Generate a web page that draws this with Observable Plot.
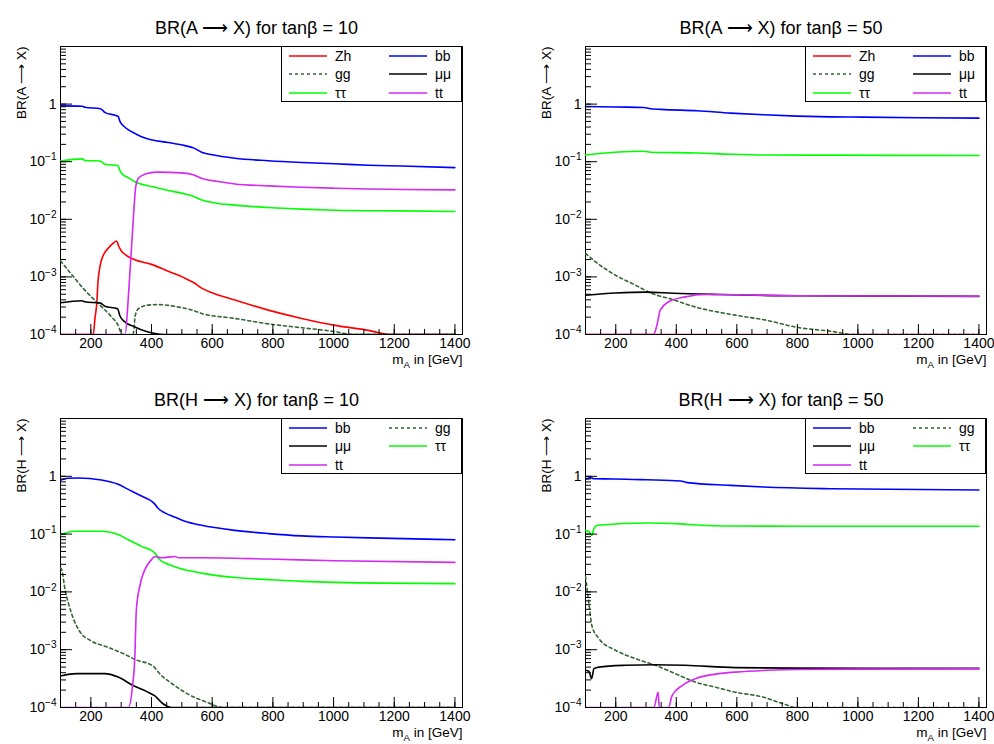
<!DOCTYPE html>
<html><head><meta charset="utf-8">
<script src="https://cdn.jsdelivr.net/npm/d3@7"></script>
<script src="https://cdn.jsdelivr.net/npm/@observablehq/plot@0.6"></script>
<style>
body{margin:0;background:#fff;font-family:"Liberation Sans",Arial,sans-serif;}
#root{position:relative;width:994px;height:744px;overflow:hidden;background:#fff;}
.panel{position:absolute;width:497px;height:372px;}
.panel svg{position:absolute;left:0;top:0;}
.legend{position:absolute;box-sizing:border-box;border:1px solid #000;background:#fff;width:181px;height:56px;}
.entry{position:absolute;height:16px;font-size:14px;line-height:16px;white-space:nowrap;}
.entry svg{position:absolute;left:0;top:5px;}
.entry span{position:absolute;left:46px;top:0;}
</style></head><body><div id="root"></div>
<script>
// ---- axes ----
const massRange = [100, 1425];
const brRange = [1e-4, 10];
const xMajorTicks = [200, 400, 600, 800, 1000, 1200, 1400];
const yMajorTicks = [1e-4, 1e-3, 1e-2, 1e-1, 1];
const yTickLabels = ["10^{−4}", "10^{−3}", "10^{−2}", "10^{−1}", "1"];
const xLabel = "m_{A} in [GeV]";

// ---- BR(A -> X), tanβ = 10 : [mA, BR] ----
const A10_Zh = [[100,1e-6],[205,1e-6],[208,1e-4],[214,2e-4],[219,3.2e-4],[224,8.8e-4],[230,1.5e-3],[235,1.96e-3],[245,2.6e-3],[257,3.13e-3],[270,3.7e-3],[285,4.2e-3],[292,3.4e-3],[300,2.85e-3],[318,2.35e-3],[345,1.98e-3],[400,1.65e-3],[455,1.25e-3],[510,9.5e-4],[540,7.9e-4],[565,6.4e-4],[600,5.3e-4],[675,3.96e-4],[785,2.65e-4],[895,1.9e-4],[1005,1.44e-4],[1115,1.18e-4],[1185,1e-4],[1250,8.8e-5],[1400,6.8e-5]];
const A10_bb = [[100,0.93],[172,0.92],[180,0.88],[232,0.83],[240,0.77],[246,0.72],[290,0.61],[296,0.50],[307,0.42],[323,0.36],[345,0.31],[367,0.27],[400,0.24],[455,0.215],[510,0.19],[540,0.172],[565,0.146],[600,0.132],[675,0.115],[785,0.104],[895,0.097],[1005,0.092],[1115,0.087],[1225,0.084],[1400,0.079]];
const A10_gg = [[100,1.9e-3],[140,1.05e-3],[180,5.9e-4],[224,3.46e-4],[268,2.03e-4],[290,1.45e-4],[303,1e-4],[310,1e-6],[338,1e-6],[342,1.2e-4],[346,2.1e-4],[357,2.8e-4],[389,3.24e-4],[422,3.3e-4],[488,3.0e-4],[540,2.6e-4],[565,2.32e-4],[675,1.9e-4],[785,1.53e-4],[895,1.31e-4],[1005,1.12e-4],[1060,1e-4],[1150,8.5e-5],[1400,6e-5]];
const A10_mumu = [[100,3.56e-4],[170,3.86e-4],[180,3.7e-4],[232,3.5e-4],[246,3.1e-4],[288,2.79e-4],[296,2.1e-4],[312,1.66e-4],[345,1.35e-4],[378,1.15e-4],[444,1e-4],[520,9e-5],[1400,5e-5]];
const A10_tautau = [[100,0.103],[172,0.112],[180,0.105],[232,0.103],[241,0.094],[246,0.09],[290,0.085],[296,0.07],[301,0.063],[323,0.053],[345,0.045],[400,0.037],[455,0.0316],[510,0.0276],[540,0.0249],[565,0.0217],[600,0.0196],[675,0.0176],[785,0.016],[895,0.015],[1005,0.0144],[1225,0.014],[1400,0.0137]];
const A10_tt = [[100,1e-6],[310,1e-6],[313,1e-4],[323,3.95e-4],[330,1.5e-3],[337,5.7e-3],[343,0.018],[348,0.037],[355,0.05],[370,0.058],[389,0.063],[422,0.066],[499,0.064],[540,0.059],[565,0.0516],[620,0.0452],[675,0.0411],[785,0.038],[895,0.036],[1005,0.0346],[1115,0.0336],[1225,0.033],[1400,0.0324]];

// ---- BR(A -> X), tanβ = 50 ----
const A50_Zh = [[100,1e-6],[1400,1e-6]];
const A50_bb = [[100,0.91],[200,0.89],[293,0.875],[310,0.84],[350,0.81],[469,0.766],[579,0.698],[689,0.652],[799,0.618],[909,0.60],[1019,0.594],[1200,0.58],[1400,0.57]];
const A50_gg = [[100,2.57e-3],[133,1.83e-3],[199,1.07e-3],[265,7.2e-4],[314,5.3e-4],[386,4.07e-4],[463,3.0e-4],[595,2.17e-4],[694,1.78e-4],[803,1.32e-4],[910,1.14e-4],[985,1e-4],[1100,8.5e-5],[1400,6e-5]];
const A50_mumu = [[100,4.8e-4],[200,5.25e-4],[300,5.45e-4],[390,5.2e-4],[540,4.95e-4],[800,4.7e-4],[1400,4.6e-4]];
const A50_tautau = [[100,0.131],[195,0.146],[293,0.152],[315,0.146],[470,0.142],[580,0.135],[690,0.131],[910,0.13],[1400,0.128]];
const A50_tt = [[100,1e-6],[322,1e-6],[325,1e-4],[336,1.45e-4],[347,2.65e-4],[375,3.7e-4],[430,4.5e-4],[496,4.95e-4],[540,4.95e-4],[800,4.72e-4],[1400,4.62e-4]];

// ---- BR(H -> X), tanβ = 10 ----
const H10_bb = [[100,0.85],[124,0.923],[158,0.935],[235,0.863],[290,0.726],[323,0.594],[367,0.455],[405,0.355],[411,0.33],[420,0.285],[444,0.233],[477,0.196],[510,0.167],[565,0.142],[675,0.116],[785,0.102],[895,0.093],[1005,0.089],[1115,0.086],[1400,0.080]];
const H10_gg = [[100,0.026],[104,0.0243],[115,0.0109],[126,6.4e-3],[142,3.5e-3],[164,2.04e-3],[197,1.46e-3],[252,1.12e-3],[306,8.6e-4],[345,6.8e-4],[405,5.2e-4],[430,3.7e-4],[471,2.5e-4],[525,1.65e-4],[580,1.25e-4],[635,1e-4],[700,8e-5],[1400,3e-5]];
const H10_mumu = [[100,3.5e-4],[153,3.85e-4],[246,3.85e-4],[290,3.36e-4],[339,2.4e-4],[383,1.9e-4],[410,1.6e-4],[438,1.16e-4],[465,1e-4],[520,8.5e-5],[1400,4e-5]];
const H10_tautau = [[100,0.098],[147,0.112],[235,0.112],[290,0.098],[323,0.080],[367,0.0613],[405,0.05],[411,0.0468],[427,0.036],[455,0.030],[510,0.0241],[565,0.0211],[675,0.0177],[785,0.0163],[895,0.0152],[1005,0.0146],[1400,0.0139]];
const H10_tt = [[100,1e-6],[321,1e-6],[324,1e-4],[337,2.25e-4],[345,7.5e-4],[350,4.9e-3],[361,0.0124],[378,0.0243],[400,0.0362],[411,0.041],[433,0.039],[455,0.040],[477,0.041],[490,0.039],[565,0.039],[785,0.037],[1005,0.0345],[1400,0.0324]];

// ---- BR(H -> X), tanβ = 50 ----
const H50_bb = [[100,0.886],[118,0.948],[128,0.905],[195,0.899],[300,0.87],[414,0.83],[436,0.776],[579,0.697],[689,0.652],[909,0.61],[1400,0.578]];
const H50_gg = [[100,0.0185],[111,6.4e-3],[122,2.5e-3],[144,1.57e-3],[199,9.8e-4],[265,7.0e-4],[331,5.37e-4],[397,3.85e-4],[463,2.75e-4],[529,2.25e-4],[595,1.84e-4],[690,1.5e-4],[745,1.2e-4],[800,1e-4],[900,8e-5],[1400,4e-5]];
const H50_mumu = [[100,4.4e-4],[112,4.2e-4],[120,3.15e-4],[128,4.7e-4],[144,5.0e-4],[232,5.37e-4],[331,5.5e-4],[430,5.37e-4],[595,4.9e-4],[800,4.8e-4],[1400,4.75e-4]];
const H50_tautau = [[100,0.115],[112,0.11],[121,0.095],[129,0.128],[140,0.142],[305,0.156],[414,0.150],[469,0.144],[579,0.138],[800,0.137],[1400,0.137]];
const H50_tt = [[100,1e-6],[324,1e-6],[326,1e-4],[340,1.84e-4],[344,1e-4],[346,1e-6],[372,1e-6],[374,1e-4],[386,1.6e-4],[419,2.4e-4],[463,3.15e-4],[540,3.85e-4],[595,4.1e-4],[700,4.4e-4],[800,4.55e-4],[1000,4.62e-4],[1400,4.65e-4]];

// ---- legends / titles ----
const legendA = ["Zh", "bb", "gg", "μμ", "ττ", "tt"];
const legendH = ["bb", "gg", "μμ", "ττ", "tt"];
const titles = ["BR(A ⟶ X) for tanβ = 10", "BR(A ⟶ X) for tanβ = 50", "BR(H ⟶ X) for tanβ = 10", "BR(H ⟶ X) for tanβ = 50"];
const yLabels = ["BR(A ⟶ X)", "BR(A ⟶ X)", "BR(H ⟶ X)", "BR(H ⟶ X)"];

// ---- styles ----
const channelColor = {"Zh": "#ff0000", "bb": "#0000ff", "gg": "#336633", "μμ": "#000000", "ττ": "#00ff00", "tt": "#d42af2"};
const channelDash = {"gg": "3,3"};

const panels = [
  {left: 0, top: 0, ml: 60, mr: 35, mt: 46, mb: 38, title: titles[0], ylabel: yLabels[0], legend: legendA,
   series: {"Zh": A10_Zh, "bb": A10_bb, "gg": A10_gg, "μμ": A10_mumu, "ττ": A10_tautau, "tt": A10_tt}},
  {left: 497, top: 0, ml: 88, mr: 8, mt: 46, mb: 38, title: titles[1], ylabel: yLabels[1], legend: legendA,
   series: {"Zh": A50_Zh, "bb": A50_bb, "gg": A50_gg, "μμ": A50_mumu, "ττ": A50_tautau, "tt": A50_tt}},
  {left: 0, top: 372, ml: 60, mr: 35, mt: 46, mb: 37, title: titles[2], ylabel: yLabels[2], legend: legendH,
   series: {"bb": H10_bb, "gg": H10_gg, "μμ": H10_mumu, "ττ": H10_tautau, "tt": H10_tt}},
  {left: 497, top: 372, ml: 88, mr: 8, mt: 46, mb: 37, title: titles[3], ylabel: yLabels[3], legend: legendH,
   series: {"bb": H50_bb, "gg": H50_gg, "μμ": H50_mumu, "ττ": H50_tautau, "tt": H50_tt}}
];

const W = 497, H = 372;
const xMinorTicks = d3.ticks(massRange[0], 1400, 26);
const yMinorTicks = d3.scaleLog().domain(brRange).ticks();

function richText(root) {
  root.querySelectorAll("text").forEach(el => {
    const s = el.textContent;
    if (!/[\^_]\{/.test(s)) return;
    const fs = parseFloat(getComputedStyle(el).fontSize) || 14;
    while (el.firstChild) el.removeChild(el.firstChild);
    let cur = 0;
    s.split(/([\^_]\{[^}]*\})/).filter(Boolean).forEach(part => {
      const m = part.match(/^([\^_])\{([^}]*)\}$/);
      const ts = document.createElementNS("http://www.w3.org/2000/svg", "tspan");
      const target = m ? (m[1] === "^" ? -0.42 * fs : 0.3 * fs) : 0;
      if (target !== cur) ts.setAttribute("dy", (target - cur).toFixed(2));
      cur = target;
      if (m) ts.setAttribute("font-size", (0.72 * fs).toFixed(1));
      ts.textContent = m ? m[2] : part;
      el.appendChild(ts);
    });
  });
}

const root = document.getElementById("root");
for (const p of panels) {
  const fw = W - p.ml - p.mr, fh = H - p.mt - p.mb;
  const marks = [Plot.frame({stroke: "#000", strokeWidth: 1})];
  for (const name of p.legend) {
    marks.push(Plot.line(p.series[name], {
      x: d => d[0], y: d => d[1], stroke: channelColor[name], strokeWidth: 1.6,
      strokeDasharray: channelDash[name] || null, curve: "monotone-x", clip: true
    }));
  }
  marks.push(
    Plot.tickX(xMinorTicks, {x: d => d, insetTop: fh - 5, stroke: "#000"}),
    Plot.tickX(xMajorTicks, {x: d => d, insetTop: fh - 10, stroke: "#000"}),
    Plot.tickY(yMinorTicks, {y: d => d, insetRight: fw - 6, stroke: "#000"}),
    Plot.tickY(yMajorTicks, {y: d => d, insetRight: fw - 12, stroke: "#000"}),
    Plot.axisX({ticks: xMajorTicks, tickSize: 0, tickPadding: 4, fontSize: 14, label: null, tickFormat: d => String(d)}),
    Plot.axisY({ticks: yMajorTicks, tickSize: 0, tickPadding: 4, fontSize: 14, label: null,
      tickFormat: d => yTickLabels[yMajorTicks.indexOf(d)]}),
    Plot.text([p.title], {text: d => d, frameAnchor: "top", dy: -25, dx: -5, fontSize: 18}),
    Plot.text([p.ylabel], {text: d => d, frameAnchor: "top-left", rotate: -90, textAnchor: "end", dx: -44, fontSize: 13.5}),
    Plot.text([xLabel], {text: d => d, frameAnchor: "bottom-right", textAnchor: "end", dy: 29, fontSize: 13.5})
  );
  const svg = Plot.plot({
    width: W, height: H,
    marginLeft: p.ml, marginRight: p.mr, marginTop: p.mt, marginBottom: p.mb,
    x: {type: "linear", domain: massRange},
    y: {type: "log", domain: brRange, clamp: true},
    style: {fontFamily: "'Liberation Sans', Arial, sans-serif", fontSize: "14px", color: "#000", background: "transparent", overflow: "visible"},
    marks
  });
  const div = document.createElement("div");
  div.className = "panel";
  div.style.left = p.left + "px";
  div.style.top = p.top + "px";
  div.appendChild(svg);
  root.appendChild(div);
  richText(svg);

  // legend
  const lg = document.createElement("div");
  lg.className = "legend";
  lg.style.left = (W - p.mr - 181) + "px";
  lg.style.top = p.mt + "px";
  const rowCenters = [8.5, 27, 45.5];
  const colLefts = [7, 107];
  p.legend.forEach((name, i) => {
    const e = document.createElement("div");
    e.className = "entry";
    e.style.left = colLefts[i % 2] + "px";
    e.style.top = (rowCenters[Math.floor(i / 2)] - 8) + "px";
    const dash = channelDash[name] ? ` stroke-dasharray="${channelDash[name]}"` : "";
    e.innerHTML = `<svg width="38" height="6"><line x1="0" x2="38" y1="3" y2="3" stroke="${channelColor[name]}" stroke-width="1.3"${dash}/></svg><span>${name}</span>`;
    lg.appendChild(e);
  });
  div.appendChild(lg);
}
</script></body></html>
